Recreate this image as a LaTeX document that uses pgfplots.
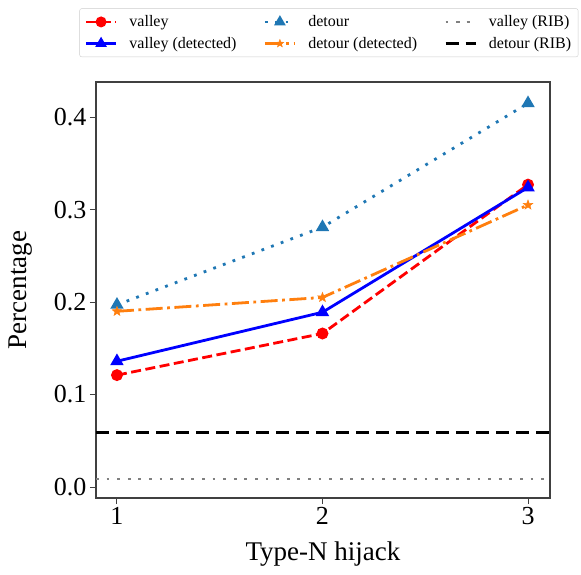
\documentclass[border=0pt]{standalone}
\usepackage{fontspec}
\setmainfont{Liberation Serif}
\usepackage{pgfplots}
\pgfplotsset{compat=1.18}
\definecolor{tabblue}{HTML}{1F77B4}
\definecolor{taborange}{HTML}{FF7F0E}
\pgfdeclareplotmark{fstar}{%
  \pgfpathmoveto{\pgfpointpolar{90}{\pgfplotmarksize}}%
  \pgfpathlineto{\pgfpointpolar{126}{0.42\pgfplotmarksize}}%
  \pgfpathlineto{\pgfpointpolar{162}{\pgfplotmarksize}}%
  \pgfpathlineto{\pgfpointpolar{198}{0.42\pgfplotmarksize}}%
  \pgfpathlineto{\pgfpointpolar{234}{\pgfplotmarksize}}%
  \pgfpathlineto{\pgfpointpolar{270}{0.42\pgfplotmarksize}}%
  \pgfpathlineto{\pgfpointpolar{306}{\pgfplotmarksize}}%
  \pgfpathlineto{\pgfpointpolar{342}{0.42\pgfplotmarksize}}%
  \pgfpathlineto{\pgfpointpolar{18}{\pgfplotmarksize}}%
  \pgfpathlineto{\pgfpointpolar{54}{0.42\pgfplotmarksize}}%
  \pgfpathclose\pgfusepathqfillstroke}
\begin{document}
\begin{tikzpicture}
\begin{axis}[
  scale only axis, width=454pt, height=416pt,
  xmin=0.898, xmax=3.107, ymin=-0.0119, ymax=0.438,
  xtick={1,2,3}, ytick={0,0.1,0.2,0.3,0.4},
  yticklabel style={/pgf/number format/.cd, fixed, fixed zerofill, precision=1},
  /pgf/number format/assume math mode=true,
  tick label style={font=\fontsize{26}{30}\selectfont},
  label style={font=\fontsize{27}{32}\selectfont},
  tick align=outside, tick pos=left, major tick length=6pt,
  axis line style={black!75, line width=1.2pt},
  tick style={black!75, line width=1pt},
  xlabel={Type-N hijack}, ylabel={Percentage},
  xlabel style={at={(axis description cs:0.5,-0.105)}, anchor=north, inner sep=0pt},
  ylabel style={at={(axis description cs:-0.139,0.5)}, anchor=south, inner sep=0pt},
  legend columns=3,
  legend cell align=left,
  legend style={at={(axis description cs:0.513,1.06)}, anchor=south,
    font=\fontsize{16}{19}\selectfont, draw=black!20, rounded corners=2pt,
    inner xsep=5pt, inner ysep=5pt, row sep=5pt,
    /tikz/every odd column/.append style={column sep=10pt},
    /tikz/every even column/.append style={column sep=25pt}},
  legend image code/.code={\draw[mark repeat=2,mark phase=2,#1,mark size=4pt] plot coordinates {(0pt,0pt) (15pt,0pt) (30pt,0pt)};},
]
\addplot[red, line width=2.8pt, dash pattern=on 10pt off 4.5pt, mark=*, mark size=4.5pt, mark options={solid}]
  coordinates {(1,0.121) (2,0.166) (3,0.327)};
\addlegendentry{valley}
\addplot[tabblue, line width=2.8pt, dash pattern=on 2.8pt off 7.5pt, mark=triangle*, mark size=5pt, mark options={solid}]
  coordinates {(1,0.197) (2,0.281) (3,0.415)};
\addlegendentry{detour}
\addplot[gray, line width=2.8pt, dash pattern=on 2.8pt off 7.8pt]
  coordinates {(0.898,0.0087) (3.107,0.0087)};
\addlegendentry{valley (RIB)}
\addplot[blue, line width=2.8pt, mark=triangle*, mark size=5pt, mark options={solid}]
  coordinates {(1,0.136) (2,0.189) (3,0.324)};
\addlegendentry{valley (detected)}
\addplot[taborange, line width=2.8pt, dash pattern=on 17pt off 4.5pt on 2.8pt off 4.5pt, mark=fstar, mark size=5pt, mark options={solid, line width=0.5pt}]
  coordinates {(1,0.190) (2,0.205) (3,0.305)};
\addlegendentry{detour (detected)}
\addplot[black, line width=2.8pt, dash pattern=on 13pt off 7pt]
  coordinates {(0.898,0.059) (3.107,0.059)};
\addlegendentry{detour (RIB)}
\end{axis}
\path (current axis.south west) ++(-96pt,-76pt) rectangle ++(581pt,574pt);
\end{tikzpicture}
\end{document}
